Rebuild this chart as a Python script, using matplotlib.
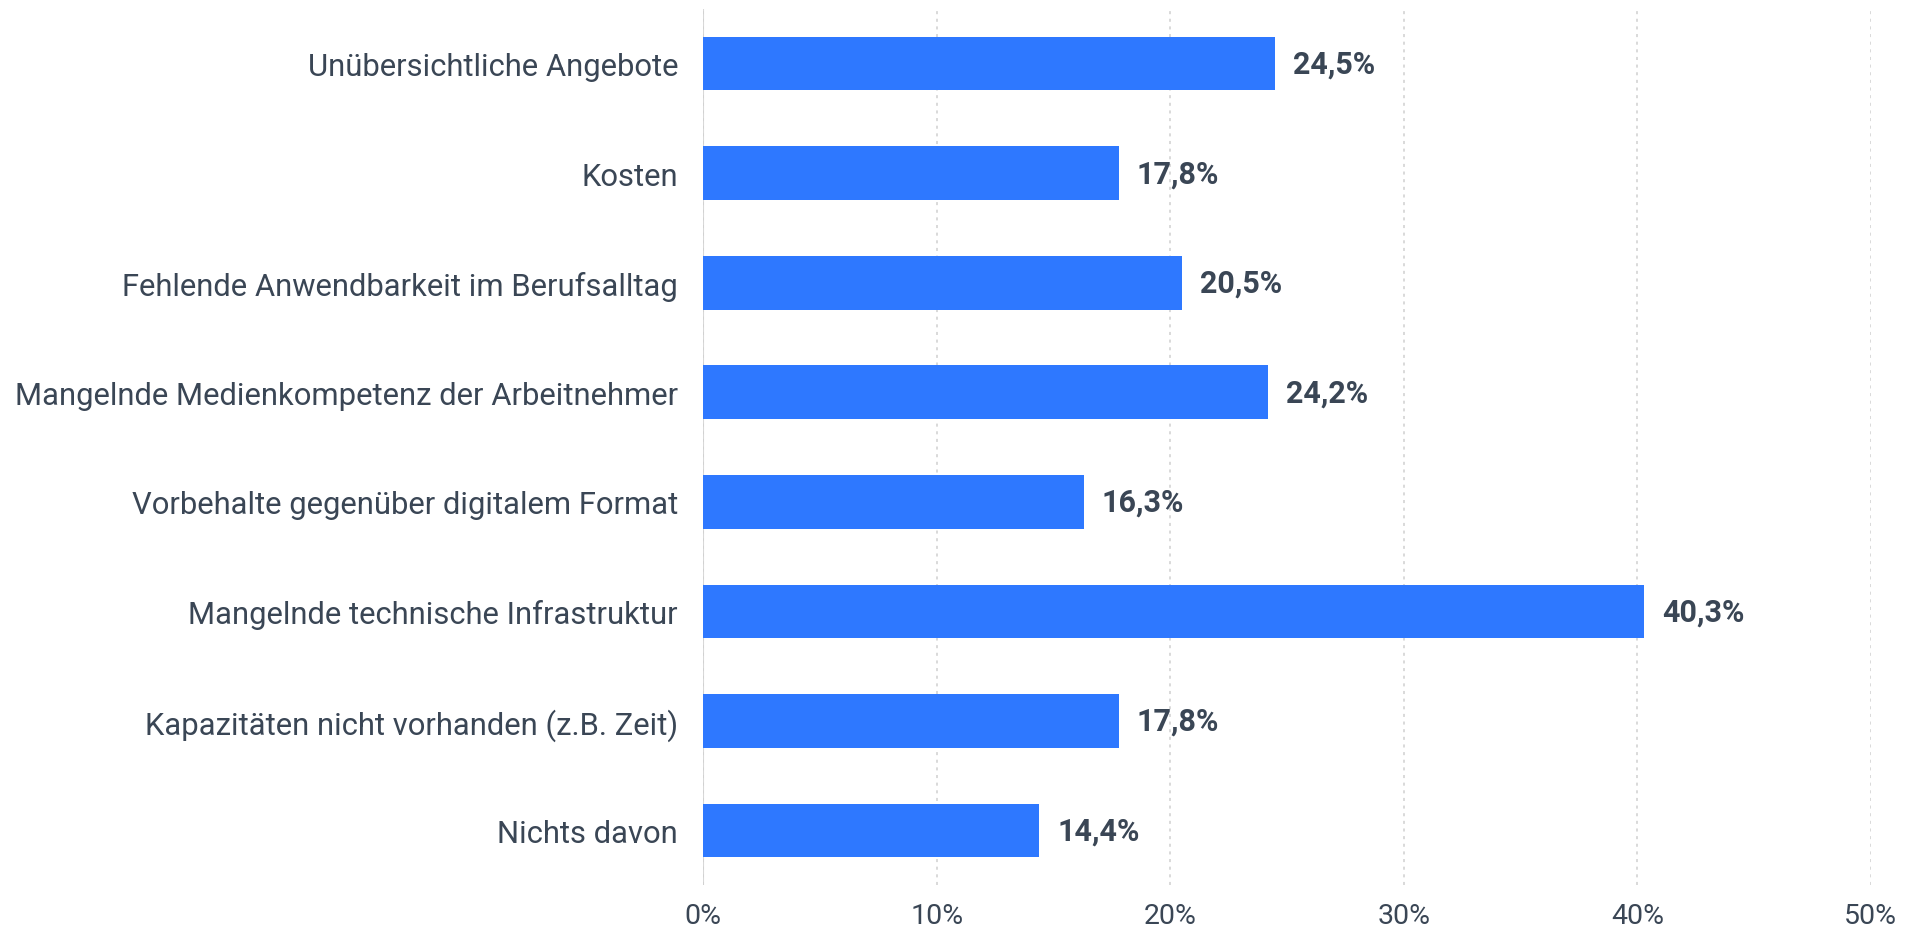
import matplotlib.pyplot as plt
from matplotlib.ticker import FuncFormatter


CATEGORIES = [
    "Unübersichtliche Angebote",
    "Kosten",
    "Fehlende Anwendbarkeit im Berufsalltag",
    "Mangelnde Medienkompetenz der Arbeitnehmer",
    "Vorbehalte gegenüber digitalem Format",
    "Mangelnde technische Infrastruktur",
    "Kapazitäten nicht vorhanden (z.B. Zeit)",
    "Nichts davon",
]
VALUES = [24.5, 17.8, 20.5, 24.2, 16.3, 40.3, 17.8, 14.4]
X_TICKS = [0, 10, 20, 30, 40, 50]

BAR_COLOR = "#2e78ff"
TEXT_COLOR = "#3a4655"


def main():
    plt.rcParams["font.family"] = ["Roboto", "DejaVu Sans"]

    fig = plt.figure(figsize=(19.08, 9.29), dpi=100)
    ax = fig.add_axes([0.3685, 0.046, 0.612, 0.9435])

    y = list(range(len(CATEGORIES)))
    ax.barh(y, VALUES, height=0.49, color=BAR_COLOR, zorder=3)

    for yi, v in zip(y, VALUES):
        ax.annotate("{:.1f}%".format(v).replace(".", ","), xy=(v, yi),
                    xytext=(13, 0), textcoords="offset points",
                    ha="left", va="center", fontsize=22, fontweight="bold",
                    color=TEXT_COLOR)

    ax.set_yticks(y)
    ax.set_yticklabels(CATEGORIES, fontsize=22.3, color=TEXT_COLOR)
    ax.set_ylim(len(CATEGORIES) - 0.5, -0.5)

    ax.set_xlim(0, 50)
    ax.set_xticks(X_TICKS)
    ax.xaxis.set_major_formatter(FuncFormatter(lambda v, p: "{:d}%".format(int(v))))
    ax.tick_params(axis="x", labelsize=20.5, labelcolor=TEXT_COLOR, length=0, pad=12)
    ax.tick_params(axis="y", length=0, pad=18)

    ax.grid(axis="x", linestyle=(0, (2, 3)), color="#d0d0d0", linewidth=1.1, zorder=0)
    ax.axvline(0, color="#d8d8d8", linewidth=1.5, zorder=1)
    for s in ax.spines.values():
        s.set_visible(False)

    fig.savefig("out.png")


if __name__ == "__main__":
    main()
